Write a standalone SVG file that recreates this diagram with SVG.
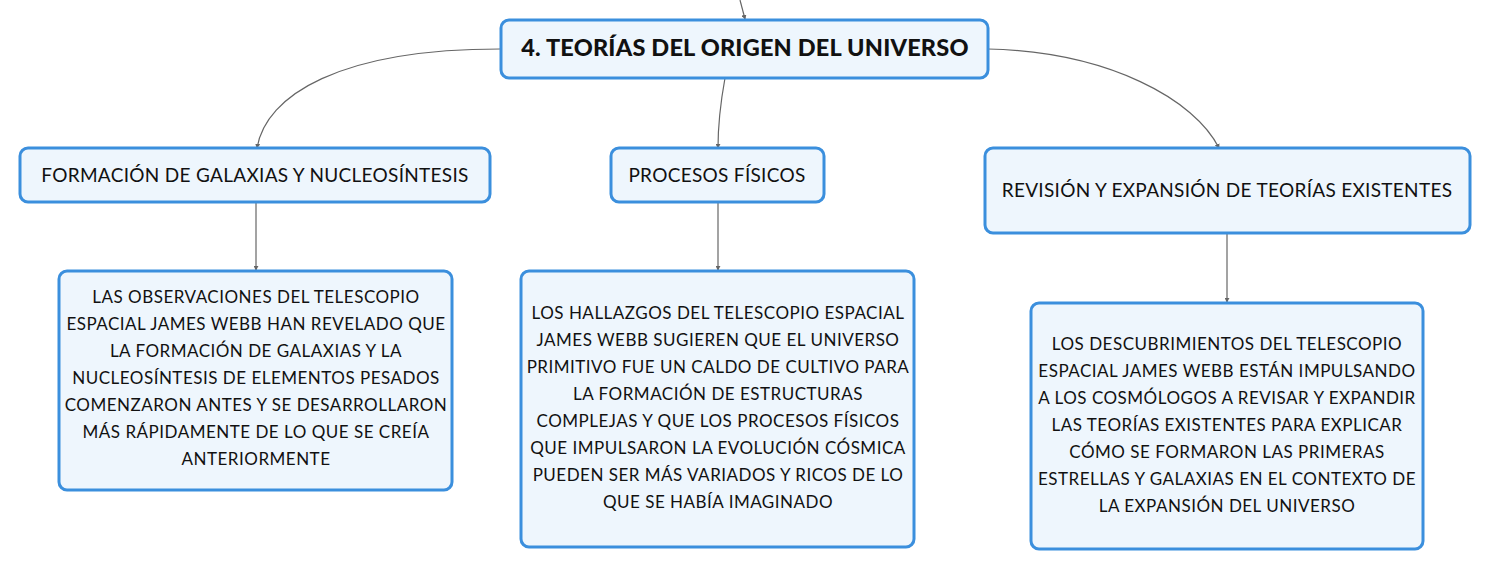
<svg xmlns="http://www.w3.org/2000/svg" width="1490" height="571" viewBox="0 0 1490 571">
<defs>
<marker id="arr" viewBox="0 0 6 6" refX="5" refY="3" markerWidth="5" markerHeight="5" orient="auto" markerUnits="userSpaceOnUse">
<path d="M0,0 L6,3 L0,6 z" fill="#666"/>
</marker>
<style>
.box{fill:#eef6fd;stroke:#3b8fdd;stroke-width:3}
.con{fill:none;stroke:#666;stroke-width:1.2;marker-end:url(#arr)}
.t{font-family:Lato,"Noto Sans","Liberation Sans",sans-serif;fill:#111;text-anchor:middle}
.title{font-size:23.5px;font-weight:900;letter-spacing:0.2px}
.sub{font-size:19px;letter-spacing:0.3px}
.leaf{font-size:17px;letter-spacing:0.5px}
</style>
</defs>
<rect width="1490" height="571" fill="#ffffff"/>
<g id="connectors">
<path class="con" d="M740,0 L745,19"/>
<path class="con" d="M500,49 C340,49 266,95 257,148"/>
<path class="con" d="M725,78 C721,100 718,120 718,148"/>
<path class="con" d="M988,49 C1110,52 1195,100 1219,148"/>
<path class="con" d="M256,202 L256,270"/>
<path class="con" d="M718,202 L718,270"/>
<path class="con" d="M1227,233 L1227,302"/>
</g>
<g id="root">
<rect class="box" x="501" y="20" width="487" height="58" rx="8"/>
<text class="t title" x="745" y="56">4. TEORÍAS DEL ORIGEN DEL UNIVERSO</text>
</g>
<g id="n1">
<rect class="box" x="20" y="148" width="470" height="54" rx="8"/>
<text class="t sub" x="255" y="182">FORMACIÓN DE GALAXIAS Y NUCLEOSÍNTESIS</text>
</g>
<g id="n2">
<rect class="box" x="611" y="148" width="213" height="54" rx="8"/>
<text class="t sub" x="717" y="182">PROCESOS FÍSICOS</text>
</g>
<g id="n3">
<rect class="box" x="985" y="148" width="485" height="85" rx="8"/>
<text class="t sub" x="1227" y="197">REVISIÓN Y EXPANSIÓN DE TEORÍAS EXISTENTES</text>
</g>
<g id="n1a">
<rect class="box" x="59" y="271" width="393" height="219" rx="8"/>
<text class="t leaf" x="256" y="303">LAS OBSERVACIONES DEL TELESCOPIO</text>
<text class="t leaf" x="256" y="330">ESPACIAL JAMES WEBB HAN REVELADO QUE</text>
<text class="t leaf" x="256" y="357">LA FORMACIÓN DE GALAXIAS Y LA</text>
<text class="t leaf" x="256" y="384">NUCLEOSÍNTESIS DE ELEMENTOS PESADOS</text>
<text class="t leaf" x="256" y="411">COMENZARON ANTES Y SE DESARROLLARON</text>
<text class="t leaf" x="256" y="438">MÁS RÁPIDAMENTE DE LO QUE SE CREÍA</text>
<text class="t leaf" x="256" y="465">ANTERIORMENTE</text>
</g>
<g id="n2a">
<rect class="box" x="521" y="271" width="393" height="276" rx="8"/>
<text class="t leaf" x="718" y="319">LOS HALLAZGOS DEL TELESCOPIO ESPACIAL</text>
<text class="t leaf" x="718" y="346">JAMES WEBB SUGIEREN QUE EL UNIVERSO</text>
<text class="t leaf" x="718" y="373">PRIMITIVO FUE UN CALDO DE CULTIVO PARA</text>
<text class="t leaf" x="718" y="400">LA FORMACIÓN DE ESTRUCTURAS</text>
<text class="t leaf" x="718" y="427">COMPLEJAS Y QUE LOS PROCESOS FÍSICOS</text>
<text class="t leaf" x="718" y="454">QUE IMPULSARON LA EVOLUCIÓN CÓSMICA</text>
<text class="t leaf" x="718" y="481">PUEDEN SER MÁS VARIADOS Y RICOS DE LO</text>
<text class="t leaf" x="718" y="508">QUE SE HABÍA IMAGINADO</text>
</g>
<g id="n3a">
<rect class="box" x="1031" y="303" width="392" height="246" rx="8"/>
<text class="t leaf" x="1227" y="350">LOS DESCUBRIMIENTOS DEL TELESCOPIO</text>
<text class="t leaf" x="1227" y="377">ESPACIAL JAMES WEBB ESTÁN IMPULSANDO</text>
<text class="t leaf" x="1227" y="404">A LOS COSMÓLOGOS A REVISAR Y EXPANDIR</text>
<text class="t leaf" x="1227" y="431">LAS TEORÍAS EXISTENTES PARA EXPLICAR</text>
<text class="t leaf" x="1227" y="458">CÓMO SE FORMARON LAS PRIMERAS</text>
<text class="t leaf" x="1227" y="485">ESTRELLAS Y GALAXIAS EN EL CONTEXTO DE</text>
<text class="t leaf" x="1227" y="512">LA EXPANSIÓN DEL UNIVERSO</text>
</g>
</svg>
